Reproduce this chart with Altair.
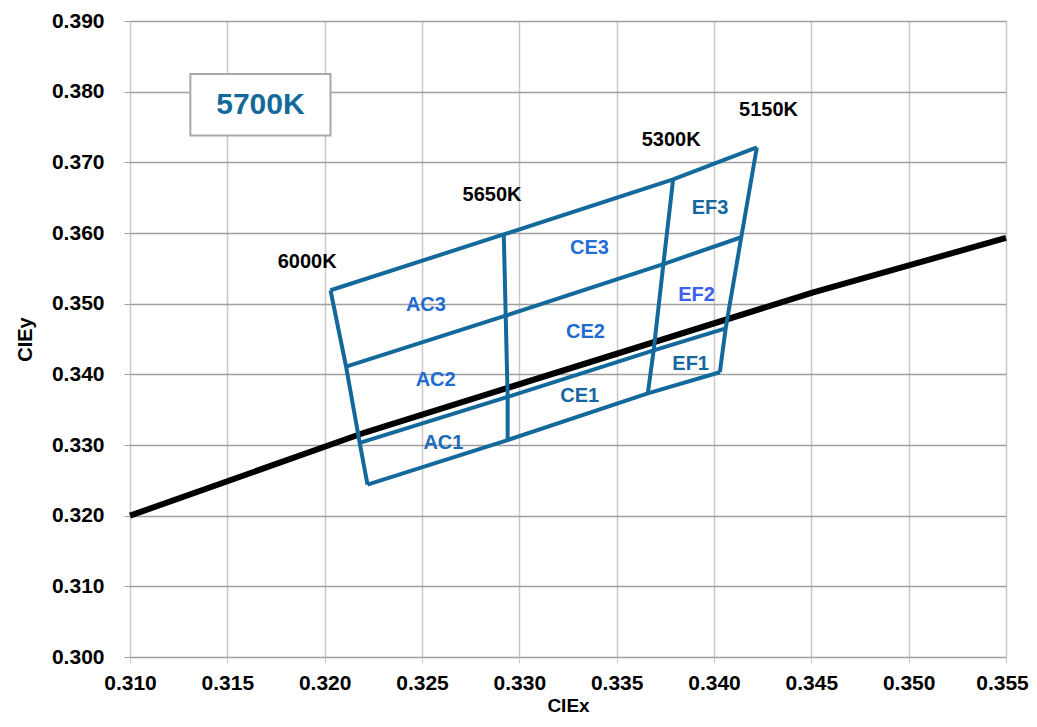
import altair as alt
import pandas as pd

FONT = "Liberation Sans"

# Axis ticks
x_ticks = [0.310, 0.315, 0.320, 0.325, 0.330, 0.335, 0.340, 0.345, 0.350, 0.355]
y_ticks = [0.300, 0.310, 0.320, 0.330, 0.340, 0.350, 0.360, 0.370, 0.380, 0.390]

# Quadrangle grid vertices (columns: 6000K, 5650K, 5300K, 5150K)
col_names = ["6000K", "5650K", "5300K", "5150K"]
top_x = [0.3203, 0.3292, 0.3379, 0.3422]
top_y = [0.3519, 0.3598, 0.3676, 0.3721]
mid_x = [0.3211, 0.3293, 0.3374, 0.3414]
mid_y = [0.3411, 0.3483, 0.3556, 0.3594]
low_x = [0.3218, 0.3294, 0.3369, 0.3406]
low_y = [0.3303, 0.3368, 0.3434, 0.3465]
bot_x = [0.3222, 0.3294, 0.3366, 0.3403]
bot_y = [0.3244, 0.3307, 0.3373, 0.3403]

# Planckian locus (black line)
loc_x = [0.310, 0.3221, 0.3451, 0.355]
loc_y = [0.3200, 0.3318, 0.3516, 0.3593]

# CCT labels
cct_text = ["6000K", "5650K", "5300K", "5150K"]
cct_x = [0.3191, 0.3286, 0.3378, 0.3428]
cct_y = [0.3559, 0.3654, 0.3731, 0.3774]

# Bin labels
bin_text = ["AC3", "AC2", "AC1", "CE3", "CE2", "CE1", "EF3", "EF2", "EF1"]
bin_x = [0.3252, 0.3257, 0.3261, 0.3336, 0.3334, 0.3331, 0.3398, 0.3391, 0.3388]
bin_y = [0.3498, 0.3392, 0.3303, 0.3579, 0.3460, 0.3369, 0.3635, 0.3512, 0.3414]
bin_color = ["#1f6cd0", "#1f6cd0", "#1b6cb8", "#1f6ed8", "#1f6cd0",
             "#16679f", "#16679f", "#3a60f0", "#16679f"]

# 5700K box
box_x = [0.3131]
box_x2 = [0.3203]
box_y = [0.3825]
box_y2 = [0.3738]
box_label = ["5700K"]
box_tx = [0.3167]
box_ty = [0.3781]

rows = [("top", top_x, top_y), ("mid", mid_x, mid_y), ("low", low_x, low_y), ("bot", bot_x, bot_y)]
recs = []
for rname, xs, ys in rows:
    for i in range(4):
        recs.append({"g": "row_" + rname, "o": i, "x": xs[i], "y": ys[i]})
for i, c in enumerate(col_names):
    for j, (rname, xs, ys) in enumerate(rows):
        recs.append({"g": "col_" + c, "o": j, "x": xs[i], "y": ys[i]})
quad_df = pd.DataFrame(recs)

loc_df = pd.DataFrame({"x": loc_x, "y": loc_y, "o": list(range(len(loc_x)))})
cct_df = pd.DataFrame({"t": cct_text, "x": cct_x, "y": cct_y})
bin_df = pd.DataFrame({"t": bin_text, "x": bin_x, "y": bin_y, "c": bin_color})
box_df = pd.DataFrame({"x": box_x, "x2": box_x2, "y": box_y, "y2": box_y2})
boxt_df = pd.DataFrame({"t": box_label, "x": box_tx, "y": box_ty})

xscale = alt.Scale(domain=[0.310, 0.355], nice=False, zero=False)
yscale = alt.Scale(domain=[0.300, 0.390], nice=False, zero=False)

xaxis = alt.Axis(values=x_ticks, format=".3f", title="CIEx", domain=False,
                 labelFont=FONT, labelFontSize=21, labelFontWeight="bold", labelColor="#000",
                 labelPadding=9, tickSize=6, tickColor="#c8c8c8", gridColor="#c8c8c8",
                 gridWidth=1.5, titleFont=FONT, titleFontSize=19, titleFontWeight="bold",
                 titleColor="#000", titlePadding=3, labelFlush=False,
                 labelOffset={"condition": {"test": "datum.value > 0.3549", "value": -4}, "value": 0})
yaxis = alt.Axis(values=y_ticks, format=".3f", title="CIEy", domain=False,
                 labelFont=FONT, labelFontSize=21, labelFontWeight="bold", labelColor="#000",
                 labelPadding=20, tickSize=6, tickColor="#a0a0a0", gridColor="#a0a0a0",
                 gridWidth=1.5, titleFont=FONT, titleFontSize=20, titleFontWeight="bold",
                 titleColor="#000", titlePadding=16, labelFlush=False)

locus = alt.Chart(loc_df).mark_line(color="#000000", strokeWidth=6).encode(
    x=alt.X("x:Q", scale=xscale, axis=xaxis),
    y=alt.Y("y:Q", scale=yscale, axis=yaxis),
    order="o:Q",
)

quads = alt.Chart(quad_df).mark_line(color="#13699b", strokeWidth=4, strokeJoin="miter").encode(
    x="x:Q", y="y:Q", detail="g:N", order="o:Q"
)

cct = alt.Chart(cct_df).mark_text(font=FONT, fontSize=20, fontWeight="bold", color="#000").encode(
    x="x:Q", y="y:Q", text="t:N"
)

bins = alt.Chart(bin_df).mark_text(font=FONT, fontSize=20, fontWeight="bold").encode(
    x="x:Q", y="y:Q", text="t:N", color=alt.Color("c:N", scale=None)
)

box = alt.Chart(box_df).mark_rect(fill="white", stroke="#a8a8a8", strokeWidth=2).encode(
    x="x:Q", x2="x2:Q", y="y:Q", y2="y2:Q"
)

boxt = alt.Chart(boxt_df).mark_text(font=FONT, fontSize=30, fontWeight="bold", color="#13699b").encode(
    x="x:Q", y="y:Q", text="t:N"
)

chart = alt.layer(locus, quads, box, boxt, cct, bins).properties(
    width=876, height=636,
    autosize=alt.AutoSizeParams(type="none"),
    padding={"left": 122, "top": 13, "right": 23, "bottom": 62},
).configure_view(stroke=None).configure(background="white")

chart.save("out.html", embed_options={"renderer": "svg", "actions": False})
